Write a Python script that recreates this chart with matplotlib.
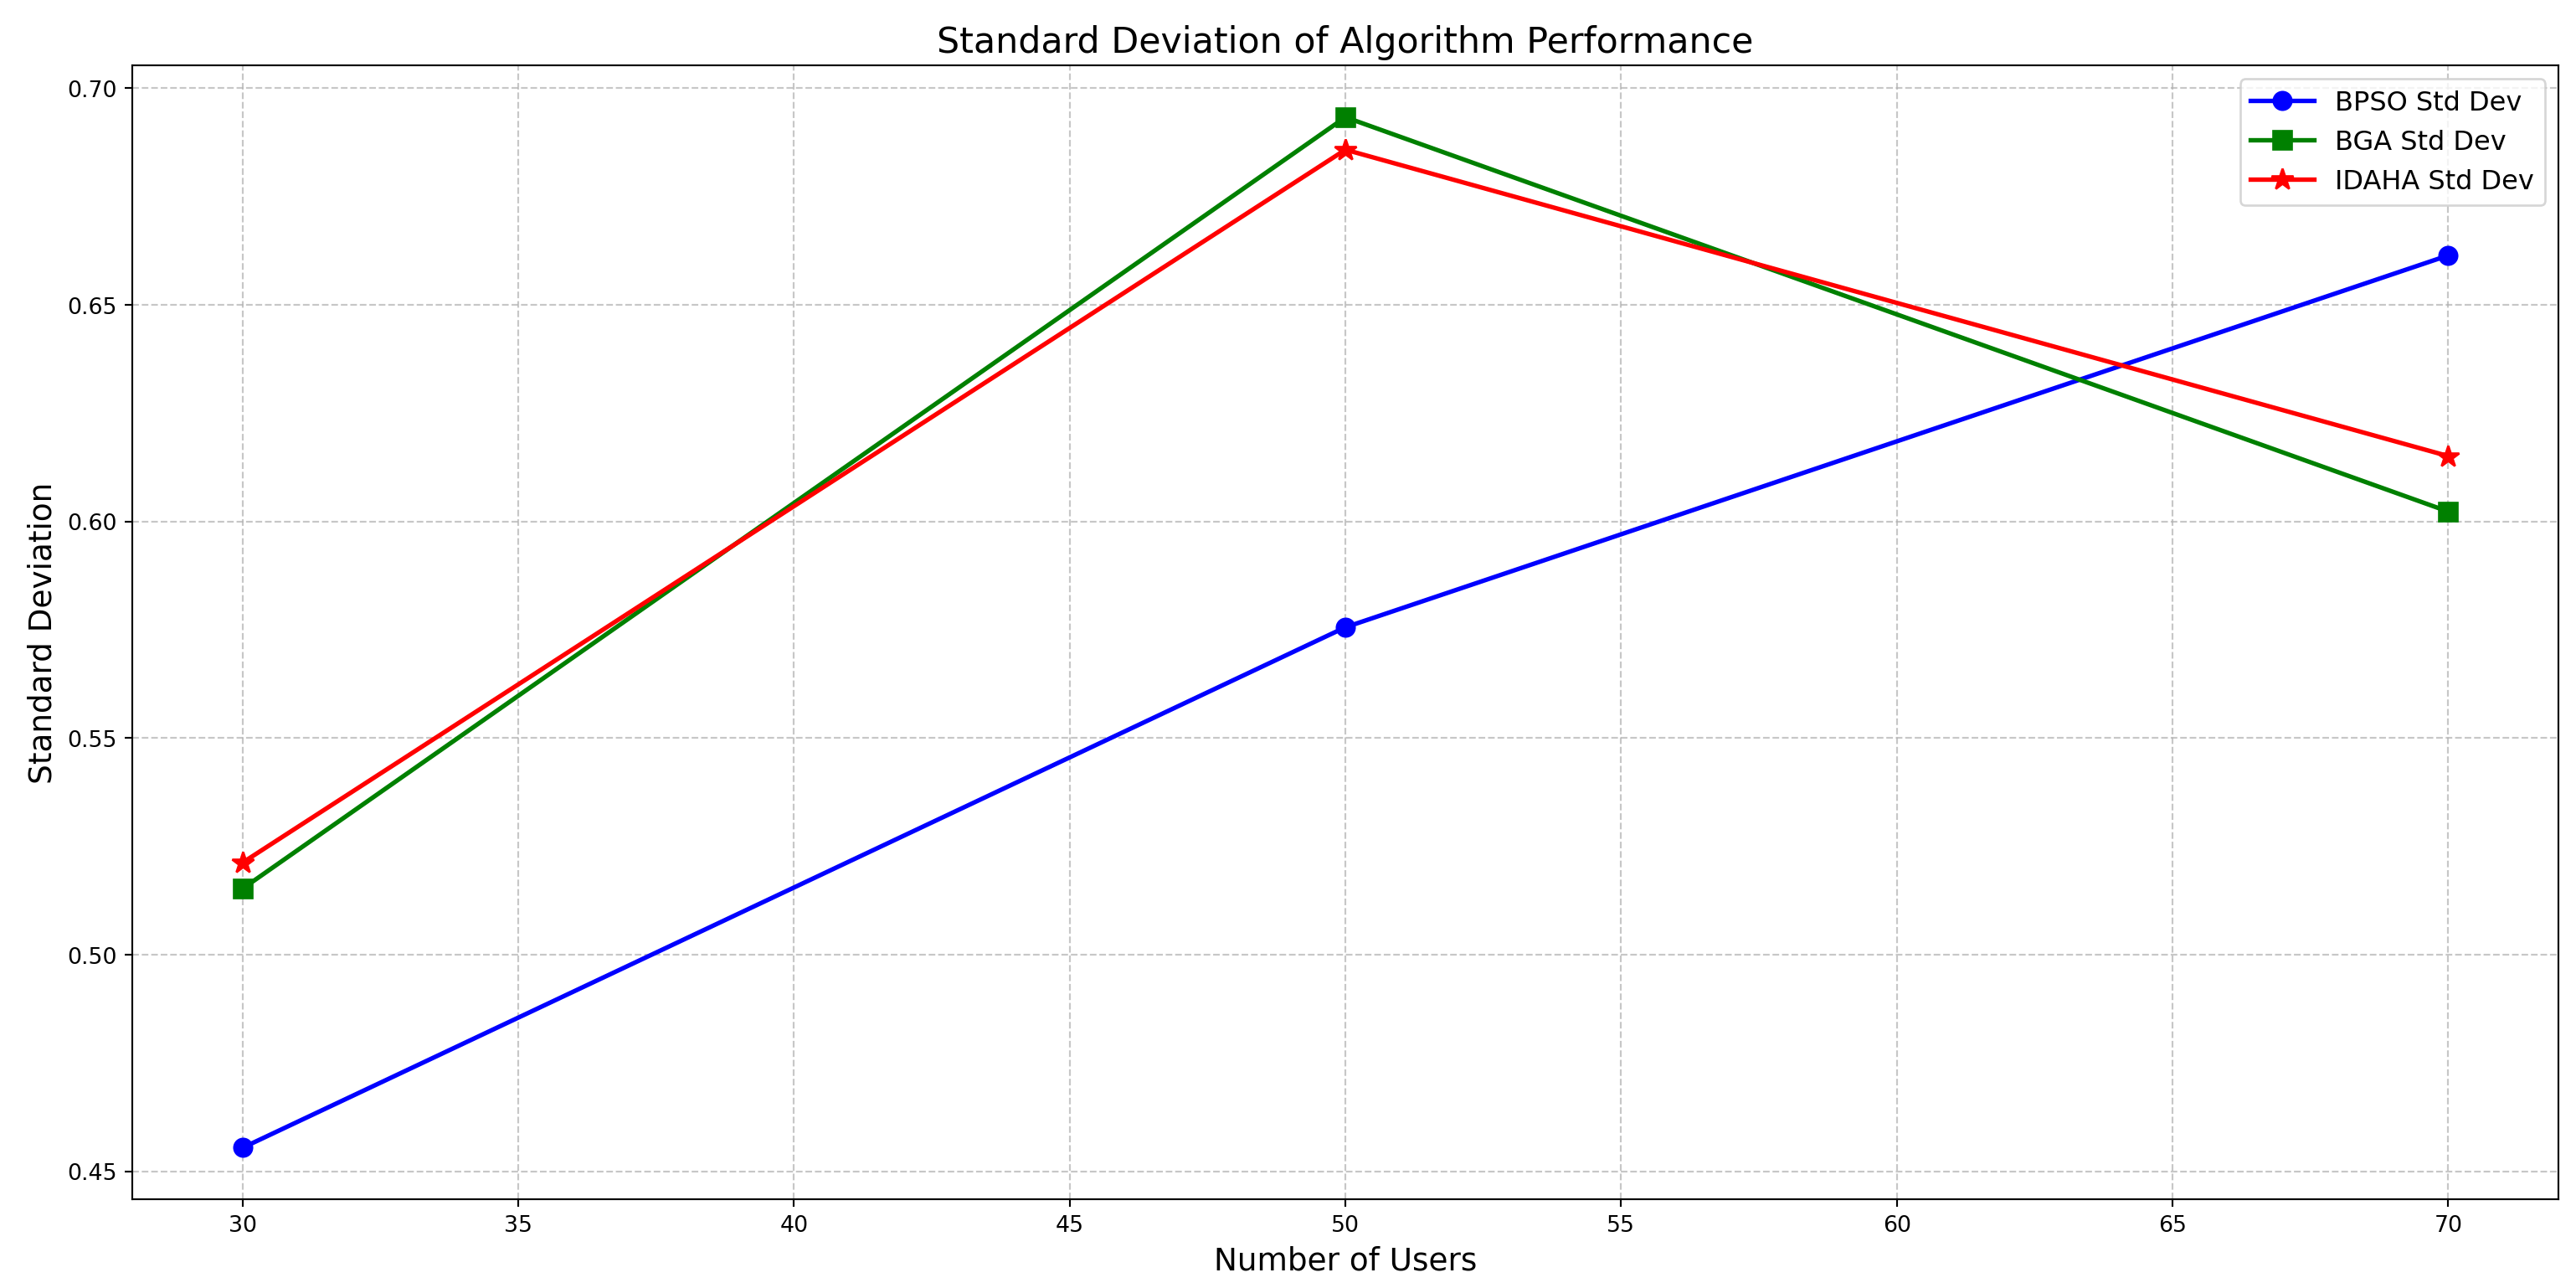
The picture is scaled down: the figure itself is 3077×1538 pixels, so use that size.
import matplotlib
matplotlib.use("Agg")
import matplotlib.pyplot as plt

# Number of users on the x axis
users = [30, 50, 70]

# Standard deviation per algorithm
bpso_std = [0.4555, 0.5756, 0.6614]
bga_std = [0.5153, 0.6933, 0.6023]
idaha_std = [0.5213, 0.6858, 0.6151]

fig, ax = plt.subplots(figsize=(16, 8), dpi=192.3125)

ax.plot(users, bpso_std, marker='o', color='blue', linewidth=2, markersize=8, label='BPSO Std Dev')
ax.plot(users, bga_std, marker='s', color='green', linewidth=2, markersize=8, label='BGA Std Dev')
ax.plot(users, idaha_std, marker='*', color='red', linewidth=2, markersize=10, label='IDAHA Std Dev')

ax.set_title('Standard Deviation of Algorithm Performance', fontsize=16)
ax.set_xlabel('Number of Users', fontsize=14)
ax.set_ylabel('Standard Deviation', fontsize=14)
ax.grid(True, linestyle='--', alpha=0.7)
ax.legend(fontsize=12, handlelength=2.35)

fig.subplots_adjust(left=0.0514, right=0.9932, top=0.9487, bottom=0.0689)
fig.savefig('out.png')
